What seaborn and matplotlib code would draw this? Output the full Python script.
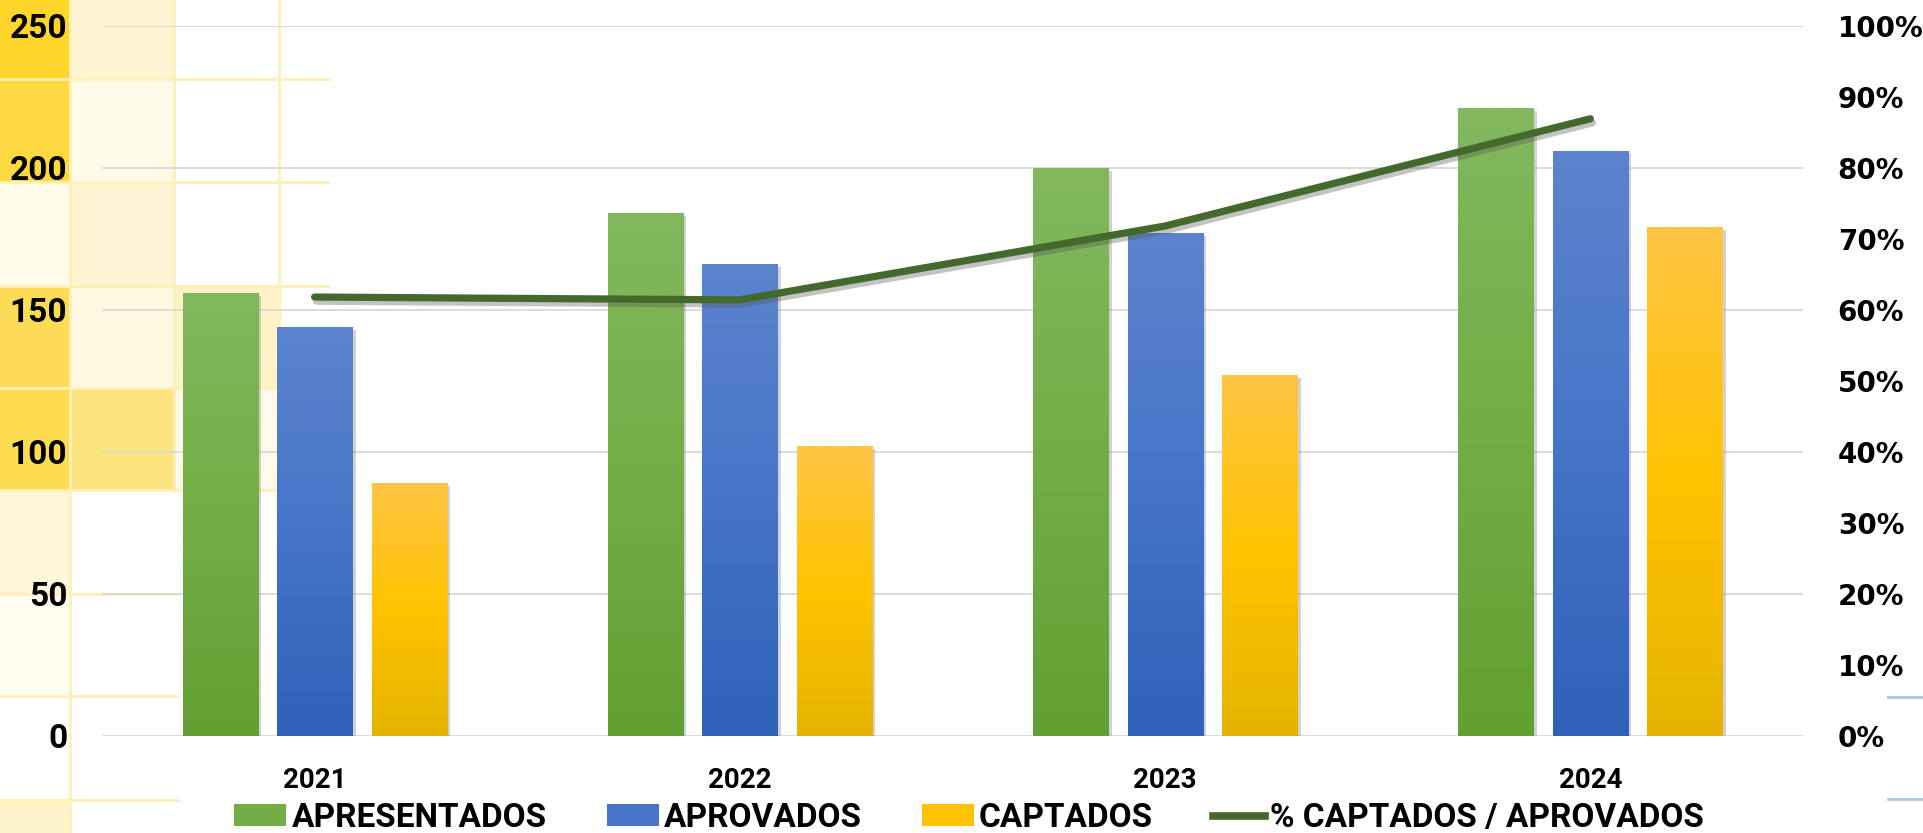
import numpy as np
import pandas as pd
import matplotlib
matplotlib.use("Agg")
import matplotlib.pyplot as plt
import matplotlib.patheffects as pe
from matplotlib.colors import to_rgb
from matplotlib.patches import Rectangle, Patch
from matplotlib.lines import Line2D
import seaborn as sns

# ---- dados ----
anos = ["2021", "2022", "2023", "2024"]
apresentados = [156, 184, 200, 221]
aprovados = [144, 166, 177, 206]
captados = [89, 102, 127, 179]
pct_captados_aprovados = [0.618, 0.614, 0.718, 0.869]

series = ["APRESENTADOS", "APROVADOS", "CAPTADOS"]
linha_label = "% CAPTADOS / APROVADOS"
ticks_esq = [0, 50, 100, 150, 200, 250]
ticks_dir = [i / 10 for i in range(11)]
labels_dir = [f"{i * 10}%" for i in range(11)]

# gradiente de cima para baixo, como no Excel
gradientes = {
    "APRESENTADOS": ["#83B85F", "#72AE45", "#61A033"],
    "APROVADOS": ["#5C84CD", "#4574C8", "#2F61B9"],
    "CAPTADOS": ["#FFC545", "#FFC300", "#E5B400"],
}
cor_linha = "#44692C"
FONTE = ["Roboto", "DejaVu Sans"]

df = pd.DataFrame({
    "ano": anos * 3,
    "serie": np.repeat(series, len(anos)),
    "valor": apresentados + aprovados + captados,
})

W, H = 1924, 833
fig = plt.figure(figsize=(W / 100, H / 100), dpi=100)


def px_rect(x0, y0, x1, y1, color):
    fig.add_artist(Rectangle((x0 / W, 1 - y1 / H), (x1 - x0) / W, (y1 - y0) / H,
                             transform=fig.transFigure, facecolor=color,
                             edgecolor="none", zorder=-2))


def px_line(x0, y0, x1, y1, color, lw=2):
    fig.add_artist(Line2D([x0 / W, x1 / W], [1 - y0 / H, 1 - y1 / H],
                          transform=fig.transFigure, color=color, lw=lw, zorder=-1))


# fundo: células amarelas da planilha atrás do gráfico
linhas_y = [0, 79, 182, 286, 388, 490, 594, 696, 800, 833]
col_a = ["#FFD42B", "#FDD83F", "#FFFBE9", "#FDDC55", "#FDDC52", "#FFF6DA", "#FFFCF0", "#FFFFFF", "#FEF2C8"]
col_b = ["#FFF5D3", "#FFFAE8", "#FFF5D5", "#FFF8E1", "#FDE47D", "#FFFFFF", "#FFFFFF", "#FFFFFF", "#FFFFFF"]
for i in range(9):
    px_rect(0, linhas_y[i], 70, linhas_y[i + 1], col_a[i])
    px_rect(70, linhas_y[i], 174, linhas_y[i + 1], col_b[i])
px_rect(174, 286, 279, 388, "#FFF2C6")
px_rect(174, 388, 279, 490, "#FEF9E8")
borda = "#FFF0B8"
px_line(70, 0, 70, 833, borda)
px_line(174, 0, 174, 490, borda)
px_line(279, 0, 279, 490, borda)
for y in linhas_y[1:6]:
    px_line(0, y, 328, y, borda)
for y in linhas_y[6:9]:
    px_line(0, y, 178, y, borda)
px_line(1888, 697, 1924, 697, "#A9C4E6")
px_line(1888, 799, 1924, 799, "#A9C4E6")

ax = fig.add_axes([102 / W, 1 - 736 / H, (1803 - 102) / W, (736 - 25.7) / H])
ax.set_facecolor("none")

sns.barplot(data=df, x="ano", y="valor", hue="serie", hue_order=series,
            palette=[gradientes[s][1] for s in series], width=0.667, gap=0.206,
            legend=False, ax=ax, zorder=3)

# aplica gradiente e sombra em cada barra
for serie, cont in zip(series, ax.containers):
    stops = np.array([to_rgb(c) for c in gradientes[serie]])
    t = np.linspace(0, 1, 256)
    pos = np.linspace(0, 1, len(stops))
    grad = np.stack([np.interp(t, pos, stops[:, k]) for k in range(3)], axis=-1)[:, None, :]
    for bar in cont:
        bar.set_path_effects([pe.SimplePatchShadow(offset=(2.5, -2), shadow_rgbFace="#7F7F7F", alpha=0.35),
                              pe.Normal()])
        x0, w, h = bar.get_x(), bar.get_width(), bar.get_height()
        im = ax.imshow(grad, extent=[x0, x0 + w, 0, h], aspect="auto",
                       origin="upper", zorder=3.5, interpolation="bilinear")
        im.set_clip_path(bar)

ax.set_xlim(-0.5, len(anos) - 0.5)
ax.set_ylim(0, 250)
ax.set_yticks(ticks_esq, labels=[str(v) for v in ticks_esq],
              fontsize=24, fontweight="bold", family=FONTE)
ax.set_xticks(range(len(anos)), labels=anos, fontsize=20, fontweight="bold", family=FONTE)
ax.set_xlabel("")
ax.set_ylabel("")
ax.grid(axis="y", color="#D9D9D9", lw=1.3, zorder=0)
ax.set_axisbelow(True)
ax.tick_params(axis="y", length=0, pad=25)
ax.tick_params(axis="x", length=0, pad=22)
for s in ax.spines.values():
    s.set_visible(False)

ax2 = ax.twinx()
sns.lineplot(x=np.arange(len(anos)), y=pct_captados_aprovados, ax=ax2, color=cor_linha,
             lw=5.2, solid_capstyle="round", zorder=5)
ax2.lines[0].set_path_effects([pe.SimpleLineShadow(offset=(1.5, -3), shadow_color="#555555", alpha=0.35),
                               pe.Normal()])
ax2.set_ylim(0, 1)
ax2.set_xlim(-0.5, len(anos) - 0.5)
ax2.set_yticks(ticks_dir, labels=labels_dir, fontsize=20, fontweight="bold", family="DejaVu Sans")
ax2.tick_params(axis="y", length=0, pad=25)
ax2.set_ylabel("")
for s in ax2.spines.values():
    s.set_visible(False)

handles = [Patch(facecolor=gradientes[s][1], edgecolor="none") for s in series]
handles.append(Line2D([0], [0], color=cor_linha, lw=5.5))
fig.legend(handles, series + [linha_label], loc="center", bbox_to_anchor=(969 / W, 1 - 818 / H),
           ncol=4, frameon=False, prop=dict(family=FONTE, weight="bold", size=24),
           handlelength=1.56, handleheight=0.63, handletextpad=0.15, columnspacing=1.8)

fig.savefig("out.png", dpi=100)
